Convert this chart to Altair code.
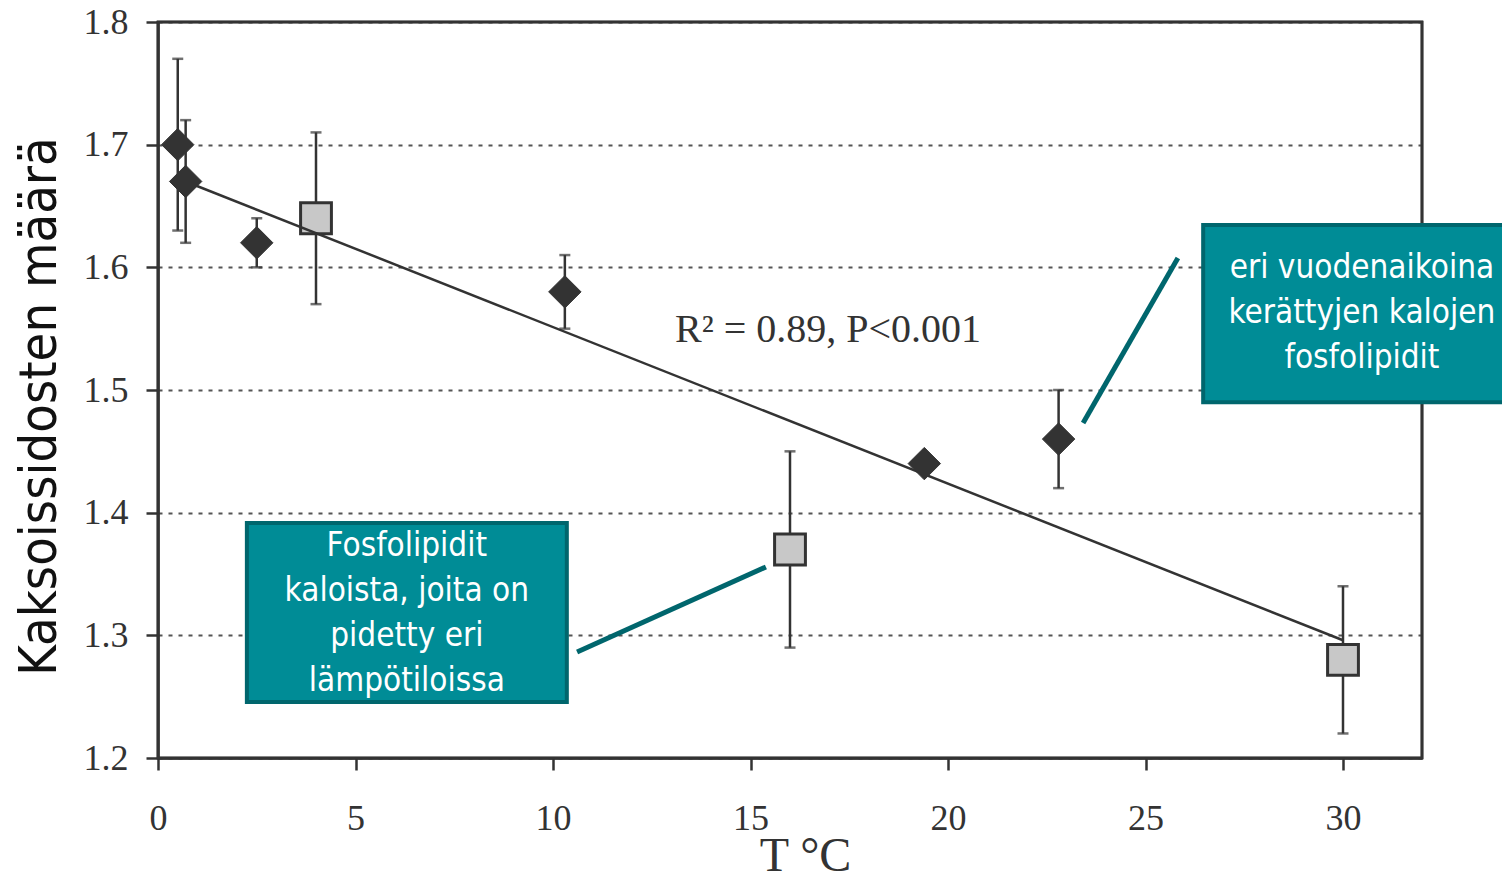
import altair as alt
import pandas as pd

# ---- data ----
diamond_x = [0.5, 0.7, 2.5, 10.3, 19.4, 22.8]
diamond_y = [1.70, 1.67, 1.62, 1.58, 1.44, 1.46]
diamond_lo = [1.63, 1.62, 1.60, 1.55, 1.435, 1.42]
diamond_hi = [1.77, 1.72, 1.64, 1.61, 1.445, 1.50]

square_x = [4.0, 16.0, 30.0]
square_y = [1.64, 1.37, 1.28]
square_lo = [1.57, 1.29, 1.22]
square_hi = [1.71, 1.45, 1.34]

fit_x = [0.7, 30.0]
fit_y = [1.670, 1.296]

x_ticks = [0, 5, 10, 15, 20, 25, 30]
y_ticks = [1.2, 1.3, 1.4, 1.5, 1.6, 1.7, 1.8]

stat_text = "R² = 0.89, P<0.001"
box_texts = [
    "eri vuodenaikoina\nkerättyjen kalojen\nfosfolipidit",
    "Fosfolipidit\nkaloista, joita on\npidetty eri\nlämpötiloissa",
]
y_title = "Kaksoissidosten määrä"
x_title = "T °C"

# annotation geometry (data units)
box_x1 = [26.46, 2.25]
box_x2 = [34.23, 10.35]
box_y1 = [1.4900, 1.2457]
box_y2 = [1.6345, 1.3916]
box_tx = [30.48, 6.30]
box_ty = [1.5995, 1.3728]   # first text line
conn_x1 = [23.42, 10.61]
conn_y1 = [1.4731, 1.2864]
conn_x2 = [25.82, 15.39]
conn_y2 = [1.6076, 1.3557]
stat_pos = (13.09, 1.5391)

W, H = 1264, 736
TEAL = "#008c96"
TEAL_DARK = "#00666d"
INK = "#333333"
SANS = "DejaVu Sans Condensed, Roboto Condensed, DejaVu Sans, sans-serif"
SERIF = "Liberation Serif, Times New Roman, serif"

dia = pd.DataFrame({"x": diamond_x, "y": diamond_y, "lo": diamond_lo, "hi": diamond_hi})
sq = pd.DataFrame({"x": square_x, "y": square_y, "lo": square_lo, "hi": square_hi})
pts = pd.concat([dia, sq], ignore_index=True)
fit = pd.DataFrame({"x": fit_x, "y": fit_y})
boxes = pd.DataFrame({"x1": box_x1, "x2": box_x2, "y1": box_y1, "y2": box_y2,
                      "tx": box_tx, "ty": box_ty, "t": box_texts})
conns = pd.DataFrame({"x1": conn_x1, "y1": conn_y1, "x2": conn_x2, "y2": conn_y2})
stat = pd.DataFrame({"x": [stat_pos[0]], "y": [stat_pos[1]], "t": [stat_text]})

xs = alt.Scale(domain=[0, 32], nice=False, zero=False)
ys = alt.Scale(domain=[1.2, 1.8], nice=False, zero=False)

X = alt.X("x:Q", scale=xs, axis=alt.Axis(
    values=x_ticks, title=x_title, grid=False, format="d", labelFlush=False,
    labelFont=SERIF, labelFontSize=36, labelColor=INK,
    labelPadding=31, tickSize=12, tickWidth=2.5, tickColor=INK,
    domainColor=INK, domainWidth=2.5,
    titleFont=SERIF, titleFontSize=48, titleFontWeight="normal",
    titleColor=INK, titleX=647, titleY=112, titleBaseline="alphabetic",
    titleAlign="center"))
Y = alt.Y("y:Q", scale=ys, axis=alt.Axis(
    values=y_ticks, title=y_title, format=".1f", labelFlush=False,
    grid=True, gridDash=[4, 6], gridColor="#555555", gridWidth=2,
    labelFont=SERIF, labelFontSize=36, labelColor=INK,
    labelPadding=18, tickSize=12, tickWidth=2.5, tickColor=INK,
    domainColor=INK, domainWidth=2.5,
    titleFont=SANS, titleFontSize=52, titleFontWeight="normal",
    titleColor="#111111", titleAngle=-90, titleX=-103, titleY=384,
    titleBaseline="alphabetic", titleAlign="center"))

base_axes = alt.Chart(pts).mark_point(opacity=0).encode(x=X, y=Y)

frame = alt.Chart(fit).mark_rect(fill=None, stroke=INK, strokeWidth=2.5).encode(
    x=alt.value(0), x2=alt.value(W), y=alt.value(0), y2=alt.value(H))

bars = alt.Chart(pts).mark_rule(color=INK, strokeWidth=2.5).encode(
    x=alt.X("x:Q", scale=xs), y=alt.Y("lo:Q", scale=ys), y2="hi:Q")
cap_hi = alt.Chart(pts).mark_tick(color=INK, orient="horizontal", size=11, thickness=2.5).encode(
    x=alt.X("x:Q", scale=xs), y=alt.Y("hi:Q", scale=ys))
cap_lo = alt.Chart(pts).mark_tick(color=INK, orient="horizontal", size=11, thickness=2.5).encode(
    x=alt.X("x:Q", scale=xs), y=alt.Y("lo:Q", scale=ys))

squares = alt.Chart(sq).mark_point(shape="square", size=950, filled=True,
                                   fill="#c8c8c8", stroke=INK, strokeWidth=3,
                                   opacity=1).encode(
    x=alt.X("x:Q", scale=xs), y=alt.Y("y:Q", scale=ys))

fitline = alt.Chart(fit).mark_line(color=INK, strokeWidth=2.5).encode(
    x=alt.X("x:Q", scale=xs), y=alt.Y("y:Q", scale=ys))

diamonds = alt.Chart(dia).mark_point(shape="diamond", size=1050, filled=True,
                                     fill=INK, stroke=INK, strokeWidth=1,
                                     opacity=1).encode(
    x=alt.X("x:Q", scale=xs), y=alt.Y("y:Q", scale=ys))

stat_lbl = alt.Chart(stat).mark_text(font=SERIF, fontSize=40, color=INK,
                                     align="left", baseline="alphabetic").encode(
    x=alt.X("x:Q", scale=xs), y=alt.Y("y:Q", scale=ys), text="t:N")

conn_lines = alt.Chart(conns).mark_rule(color=TEAL_DARK, strokeWidth=5).encode(
    x=alt.X("x1:Q", scale=xs), y=alt.Y("y1:Q", scale=ys), x2="x2:Q", y2="y2:Q")

box_rects = alt.Chart(boxes).mark_rect(fill=TEAL, stroke=TEAL_DARK, strokeWidth=4).encode(
    x=alt.X("x1:Q", scale=xs), x2="x2:Q", y=alt.Y("y1:Q", scale=ys), y2="y2:Q")

box_lbls = alt.Chart(boxes).mark_text(font=SANS, fontSize=33,
                                      color="white", align="center", baseline="middle",
                                      lineBreak="\n", lineHeight=45).encode(
    x=alt.X("tx:Q", scale=xs), y=alt.Y("ty:Q", scale=ys), text="t:N")

chart = alt.layer(base_axes, frame, bars, cap_hi, cap_lo, squares, fitline, diamonds,
                  stat_lbl, conn_lines, box_rects, box_lbls).properties(
    width=W, height=H,
    background="white",
    autosize=alt.AutoSizeParams(type="none"),
    padding={"left": 150, "top": 14, "right": 80, "bottom": 118},
).configure_view(stroke=INK, strokeWidth=2.5)

chart.save("out.html", embed_options={"renderer": "svg", "actions": False})
